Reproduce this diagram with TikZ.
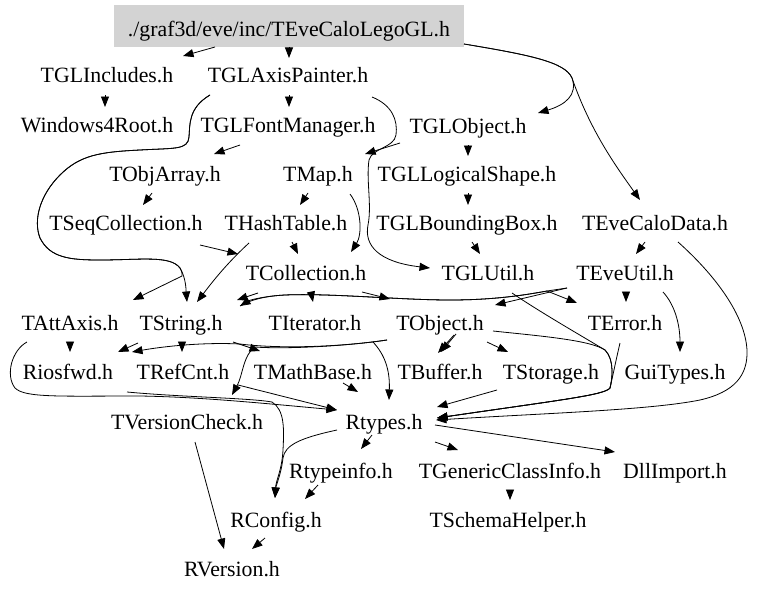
\documentclass[tikz,border=0pt]{standalone}
\usepackage{fontspec}
\setmainfont{Liberation Serif}
\usetikzlibrary{arrows.meta,calc}
\definecolor{boxgray}{RGB}{211,211,211}
\begin{document}
\begin{tikzpicture}[x=1pt,y=-1pt,
  hdr/.style={font=\fontsize{21.8}{26}\selectfont, text height=18.4pt, text depth=4pt, inner xsep=7pt, inner ysep=8pt},
  rootbox/.style={hdr, fill=boxgray, minimum width=350pt, minimum height=42pt, inner sep=0pt, text height=24.4pt},
  dep/.style={draw=black, line width=0.8pt, -{Triangle[length=10.5pt,width=8pt]}}]
\fill[white] (0,0) rectangle (779,594);
\useasboundingbox (0,0) rectangle (779,594);
% nodes
\node[rootbox] (root) at (289,26) {./graf3d/eve/inc/TEveCaloLegoGL.h};
\node[hdr] (glinc) at (107,75) {TGLIncludes.h};
\node[hdr] (glaxis) at (288,75) {TGLAxisPainter.h};
\node[hdr] (win) at (97,125) {Windows4Root.h};
\node[hdr] (glfont) at (288,125) {TGLFontManager.h};
\node[hdr] (globj) at (468,126) {TGLObject.h};
\node[hdr] (objarr) at (165,174) {TObjArray.h};
\node[hdr] (tmap) at (318,174) {TMap.h};
\node[hdr] (gllog) at (467,174) {TGLLogicalShape.h};
\node[hdr] (seqc) at (126,223) {TSeqCollection.h};
\node[hdr] (hash) at (286,223) {THashTable.h};
\node[hdr] (glbb) at (467,223) {TGLBoundingBox.h};
\node[hdr] (calo) at (655,223) {TEveCaloData.h};
\node[hdr] (coll) at (306,273) {TCollection.h};
\node[hdr] (glutil) at (488,273) {TGLUtil.h};
\node[hdr] (eveutil) at (625,273) {TEveUtil.h};
\node[hdr] (attaxis) at (70,323) {TAttAxis.h};
\node[hdr] (tstring) at (181,323) {TString.h};
\node[hdr] (iter) at (315,323) {TIterator.h};
\node[hdr] (tobj) at (440,323) {TObject.h};
\node[hdr] (terr) at (625,323) {TError.h};
\node[hdr] (riosfwd) at (68,372) {Riosfwd.h};
\node[hdr] (refcnt) at (183,372) {TRefCnt.h};
\node[hdr] (mathb) at (313,372) {TMathBase.h};
\node[hdr] (buffer) at (440,372) {TBuffer.h};
\node[hdr] (storage) at (551,372) {TStorage.h};
\node[hdr] (gui) at (675,372) {GuiTypes.h};
\node[hdr] (vcheck) at (187,422) {TVersionCheck.h};
\node[hdr] (rtypes) at (384,422) {Rtypes.h};
\node[hdr] (rtinfo) at (341,471) {Rtypeinfo.h};
\node[hdr] (gci) at (510,471) {TGenericClassInfo.h};
\node[hdr] (dll) at (675,471) {DllImport.h};
\node[hdr] (rconf) at (276,520) {RConfig.h};
\node[hdr] (schema) at (508,520) {TSchemaHelper.h};
\node[hdr] (rver) at (232,569) {RVersion.h};
% edges
\draw[dep] ($(root)+(-74,21)$) -- ($(glinc)+(76,-19)$);
\draw[dep] ($(root)+(0,21)$) -- ($(glaxis)+(1,-17)$);
\draw[dep] ($(root)+(175,18)$) .. controls (530,55) and (565,62) .. (572,78) .. controls (578,95) and (565,105) .. ($(globj)+(70,-13)$);
\draw[dep] ($(root)+(175,18)$) .. controls (530,55) and (565,62) .. (572,78) .. controls (590,130) and (615,165) .. ($(calo)+(-15,-23)$);
\draw[dep] ($(glinc)+(-2,20)$) -- ($(win)+(8,-18)$);
\draw[dep] ($(glaxis)+(1,20)$) -- ($(glfont)+(1,-18)$);
\draw[dep] ($(glaxis)+(-78,20)$) .. controls (188,108) and (190,125) .. (189,137) .. controls (188,150) and (175,148) .. (140,150) .. controls (100,152) and (80,155) .. (60,175) .. controls (40,195) and (33,220) .. (40,238) .. controls (50,258) and (70,260) .. (100,260) .. controls (140,260) and (170,255) .. (180,268) .. controls (186,278) and (186,290) .. ($(tstring)+(6,-21)$);
\draw[dep] ($(glaxis)+(-78,20)$) .. controls (188,108) and (190,125) .. (189,137) .. controls (188,150) and (175,148) .. (140,150) .. controls (100,152) and (80,155) .. (60,175) .. controls (40,195) and (33,220) .. (40,238) .. controls (50,258) and (70,260) .. (100,260) .. controls (140,260) and (170,255) .. (180,268) .. controls (182,272) .. (182,276) -- ($(attaxis)+(63,-23)$);
\draw[dep] ($(glaxis)+(84,22)$) .. controls (392,105) and (398,120) .. (396,135) .. controls (394,148) and (372,148) .. (369,160) .. controls (366,180) and (372,205) .. (368,225) .. controls (364,245) and (378,262) .. ($(glutil)+(-58,-5)$);
\draw[dep] ($(glfont)+(-48,20)$) -- ($(objarr)+(49,-20)$);
\draw[dep] ($(globj)+(-68,17)$) -- ($(tmap)+(47,-20)$);
\draw[dep] ($(globj)+(0,19)$) -- ($(gllog)+(1,-18)$);
\draw[dep] ($(gllog)+(1,19)$) -- ($(glbb)+(1,-18)$);
\draw[dep] ($(glbb)+(5,19)$) -- ($(glutil)+(-8,-19)$);
\draw[dep] ($(objarr)+(-13,19)$) -- ($(seqc)+(17,-18)$);
\draw[dep] ($(tmap)+(-10,19)$) -- ($(hash)+(14,-18)$);
\draw[dep] ($(tmap)+(32,20)$) .. controls (362,210) and (362,235) .. ($(coll)+(45,-21)$);
\draw[dep] ($(seqc)+(74,22)$) -- ($(coll)+(-68,-19)$);
\draw[dep] ($(hash)+(6,19)$) -- ($(coll)+(-8,-19)$);
\draw[dep] ($(hash)+(-37,20)$) .. controls (225,265) and (210,285) .. ($(tstring)+(16,-21)$);
\draw[dep] ($(calo)+(-10,19)$) -- ($(eveutil)+(11,-19)$);
\draw[dep] ($(calo)+(23,19)$) .. controls (715,275) and (745,315) .. (747,350) .. controls (748,375) and (735,392) .. (700,400) .. controls (650,410) and (550,413) .. ($(rtypes)+(52,-2)$);
\draw[dep] ($(coll)+(-48,20)$) -- ($(tstring)+(56,-23)$);
\draw[dep] ($(coll)+(5,19)$) -- ($(iter)+(-2,-21)$);
\draw[dep] ($(coll)+(56,19)$) -- ($(tobj)+(-50,-24)$);
\draw[dep] ($(eveutil)+(-58,15)$) -- (547,291) .. controls (520,296) and (490,300) .. (450,300) .. controls (400,300) and (330,293) .. (285,295) .. controls (265,296) and (250,300) .. ($(tstring)+(59,-17)$);
\draw[dep] ($(tstring)+(59,-17)$) .. controls (250,300) and (265,296) .. (285,295) .. controls (330,293) and (400,300) .. (450,300) .. controls (490,300) and (520,296) .. (547,291) -- ($(terr)+(-48,-20)$);
\draw[dep] ($(eveutil)+(-58,15)$) -- ($(tobj)+(55,-18)$);
\draw[dep] ($(eveutil)+(1,19)$) -- ($(terr)+(1,-21)$);
\draw[dep] ($(eveutil)+(38,19)$) .. controls (675,305) and (680,325) .. ($(gui)+(5,-20)$);
\draw[dep] ($(attaxis)+(0,19)$) -- ($(riosfwd)+(2,-20)$);
\draw[dep] ($(tstring)+(-43,20)$) -- ($(riosfwd)+(50,-20)$);
\draw[dep] ($(tstring)+(1,19)$) -- ($(refcnt)+(-1,-20)$);
\draw[dep] ($(tstring)+(52,19)$) -- ($(mathb)+(-53,-21)$);
\draw[dep] ($(tobj)+(-53,17)$) .. controls (340,347) and (280,349) .. (240,344) .. controls (200,342) and (160,347) .. ($(riosfwd)+(64,-20)$);
\draw[dep] ($(tobj)+(-53,17)$) .. controls (340,347) and (280,349) .. (255,347) .. controls (243,355) and (243,375) .. ($(vcheck)+(45,-27)$);
\draw[dep] ($(tobj)+(14,12)$) -- ($(buffer)+(-2,-19)$);
\draw[dep] ($(tobj)+(16,11)$) -- ($(buffer)+(1,-20)$);
\draw[dep] ($(tobj)+(47,19)$) -- ($(storage)+(-43,-20)$);
\draw[dep] ($(tobj)+(53,8)$) .. controls (540,336) and (590,340) .. (605,350) .. controls (615,360) and (612,380) .. (610,388) .. controls (605,395) and (560,400) .. ($(rtypes)+(53,-4)$);
\draw[dep] ($(glutil)+(24,20)$) .. controls (540,312) and (580,335) .. (605,350) .. controls (615,360) and (612,380) .. (610,388) .. controls (605,395) and (560,400) .. ($(rtypes)+(53,-4)$);
\draw[dep] ($(terr)+(-5,20)$) .. controls (616,360) and (613,375) .. (610,388) .. controls (605,395) and (560,400) .. ($(rtypes)+(53,-4)$);
\draw[dep] ($(storage)+(-54,18)$) -- ($(rtypes)+(53,-15)$);
\draw[dep] ($(mathb)+(30,11)$) -- ($(rtypes)+(-26,-30)$);
\draw[dep] ($(iter)+(58,19)$) .. controls (385,355) and (390,370) .. ($(rtypes)+(5,-22)$);
\draw[dep] ($(refcnt)+(55,13)$) -- ($(rtypes)+(-47,-12)$);
\draw[dep] ($(attaxis)+(-43,19)$) .. controls (12,350) and (5,375) .. (15,388) .. controls (25,398) and (60,396) .. (140,396) .. controls (200,397) and (260,403) .. ($(rtypes)+(-47,-12)$);
\draw[dep] ($(riosfwd)+(59,20)$) .. controls (180,397) and (250,398) .. (272,402) .. controls (285,410) and (284,430) .. (283,450) .. controls (282,470) and (276,480) .. ($(rconf)+(-1,-22)$);
\draw[dep] ($(rtypes)+(-47,8)$) .. controls (300,438) and (285,445) .. (283,458) .. controls (281,475) and (276,485) .. ($(rconf)+(-1,-22)$);
\draw[dep] ($(rtypes)+(-12,13)$) -- ($(rtinfo)+(20,-22)$);
\draw[dep] ($(rtypes)+(51,20)$) -- ($(gci)+(-52,-21)$);
\draw[dep] ($(rtypes)+(51,3)$) -- ($(dll)+(-60,-19)$);
\draw[dep] ($(rtinfo)+(-23,14)$) -- ($(rconf)+(29,-21)$);
\draw[dep] ($(gci)+(0,19)$) -- ($(schema)+(2,-20)$);
\draw[dep] ($(rconf)+(-11,18)$) -- ($(rver)+(20,-20)$);
\draw[dep] ($(vcheck)+(8,20)$) -- ($(rver)+(-8,-20)$);
\end{tikzpicture}
\end{document}
